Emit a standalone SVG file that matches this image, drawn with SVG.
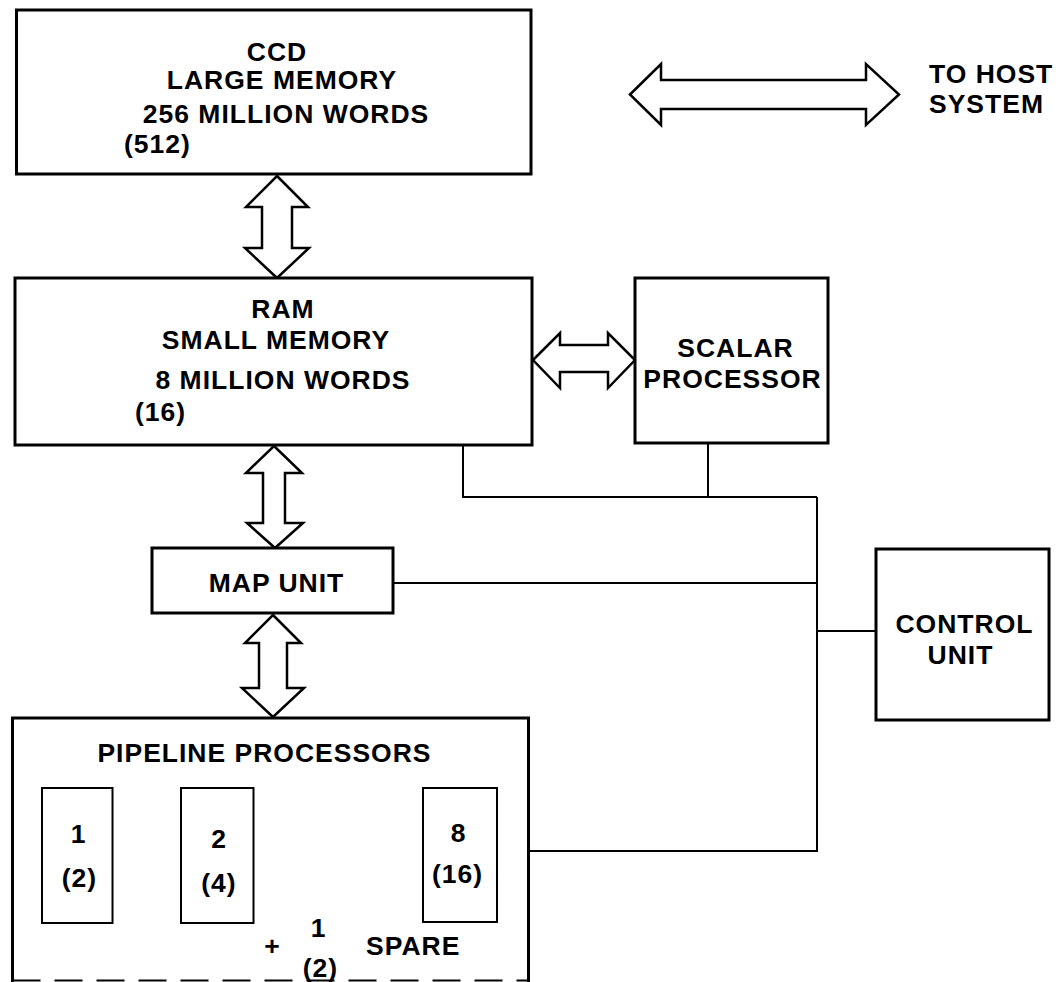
<svg xmlns="http://www.w3.org/2000/svg" width="1064" height="982" viewBox="0 0 1064 982">
<style>
.box{fill:#fff;stroke:#000;stroke-width:3}
.sub{fill:none;stroke:#000;stroke-width:2}
.ln{fill:none;stroke:#000;stroke-width:2}
.arr{fill:#fff;stroke:#000;stroke-width:2.5;stroke-linejoin:miter}
text{font-family:"Liberation Sans",Arial,Helvetica,sans-serif;font-weight:bold;font-size:26.5px;letter-spacing:1px;fill:#000}
.c{text-anchor:middle}
</style>
<rect width="1064" height="982" fill="#fff"/>
<g id="connectors">
<path class="ln" d="M463,445 V497 H817"/>
<path class="ln" d="M708,443 V497"/>
<path class="ln" d="M817,497 V852"/>
<path class="ln" d="M393,583 H817"/>
<path class="ln" d="M817,631 H876"/>
<path class="ln" d="M528,851 H817"/>
<path class="arr" d="M630,94.5 L661,64 L661,80 L866,80 L866,64 L899,94.5 L866,125 L866,109 L661,109 L661,125 Z"/>
<path class="arr" d="M277,176 L308,207 L292,207 L292,248 L309,248 L277,278 L245,248 L262,248 L262,207 L246,207 Z"/>
<path class="arr" d="M274,446 L302,473 L285,473 L285,523 L303,523 L275,548 L247,523 L263,523 L263,473 L246,473 Z"/>
<path class="arr" d="M273,615 L301,643 L287,643 L287,688 L304,688 L273,717 L242,688 L259,688 L259,643 L245,643 Z"/>
<path class="arr" d="M533,360 L560,333 L560,345 L608,345 L608,333 L635,360 L608,388 L608,372 L560,372 L560,388 Z"/>
</g>
<g id="ccd">
<rect class="box" x="16.5" y="10" width="514.5" height="164"/>
<text class="c" x="277" y="61">CCD</text>
<text class="c" x="282" y="89">LARGE MEMORY</text>
<text class="c" x="286" y="123">256 MILLION WORDS</text>
<text x="124" y="153">(512)</text>
</g>
<g id="host">
<text x="929" y="83">TO HOST</text>
<text x="929" y="113">SYSTEM</text>
</g>
<g id="ram">
<rect class="box" x="15" y="278" width="517" height="167"/>
<text class="c" x="283" y="318">RAM</text>
<text class="c" x="276" y="349">SMALL MEMORY</text>
<text class="c" x="283" y="389">8 MILLION WORDS</text>
<text x="135" y="421">(16)</text>
</g>
<g id="scalar">
<rect class="box" x="635" y="278" width="193" height="165"/>
<text class="c" x="735.5" y="357">SCALAR</text>
<text class="c" x="732.5" y="388">PROCESSOR</text>
</g>
<g id="map">
<rect class="box" x="152" y="548" width="241" height="65"/>
<text class="c" x="276.5" y="592">MAP UNIT</text>
</g>
<g id="control">
<rect class="box" x="876" y="549" width="173" height="171"/>
<text class="c" x="964.5" y="633">CONTROL</text>
<text class="c" x="960.5" y="664">UNIT</text>
</g>
<g id="pipeline">
<path class="box" d="M12.5,982 V718 H528.5 V982"/>
<line class="sub" x1="12.5" y1="980.5" x2="528.5" y2="980.5" stroke-dasharray="28 14"/>
<text class="c" x="264.5" y="762">PIPELINE PROCESSORS</text>
<g id="pp1">
<rect class="sub" x="42" y="788" width="70.5" height="135"/>
<text class="c" x="78.5" y="843">1</text>
<text class="c" x="79.5" y="887">(2)</text>
</g>
<g id="pp2">
<rect class="sub" x="181" y="788" width="72.5" height="135"/>
<text class="c" x="219" y="848">2</text>
<text class="c" x="219" y="892">(4)</text>
</g>
<g id="pp8">
<rect class="sub" x="423" y="788" width="74" height="134"/>
<text class="c" x="458.5" y="842">8</text>
<text class="c" x="457.5" y="883">(16)</text>
</g>
<g id="spare">
<text class="c" x="272.5" y="955">+</text>
<text class="c" x="318.5" y="937">1</text>
<text class="c" x="320.5" y="977">(2)</text>
<text x="366" y="955">SPARE</text>
</g>
</g>
</svg>
